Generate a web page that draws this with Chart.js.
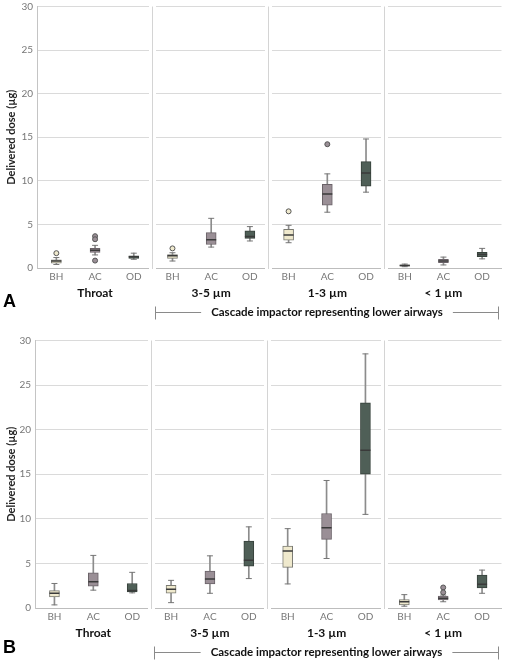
<!DOCTYPE html>
<html>
<head>
<meta charset="utf-8">
<script src="https://cdn.jsdelivr.net/npm/chart.js@4.4.1/dist/chart.umd.min.js"></script>
<style>
  html, body { margin: 0; padding: 0; background: #fff; }
  canvas { position: absolute; left: 0; }
  #chartA { top: 0; }
  #chartB { top: 334px; }
</style>
</head>
<body>
<canvas id="chartA" width="508" height="320"></canvas>
<canvas id="chartB" width="508" height="326"></canvas>
<script>
const groups = ['BH', 'AC', 'OD'];
const facets = ['Throat', '3-5 µm', '1-3 µm', '< 1 µm'];
const yTicks = [0, 5, 10, 15, 20, 25, 30];
const boxColors = ['#efe9cd', '#9a8f96', '#4f5f57'];
const boxBorders = ['#7a7a72', '#6a6268', '#36413b'];

// Panel A (12 boxes: BH/AC/OD for each of the 4 facets)
const aLow  = [0.4, 1.5, 1.0,  0.8, 2.4, 3.1,  2.9, 6.4, 8.7,   0.15, 0.35, 1.05];
const aQ1   = [0.55, 1.8, 1.1, 1.1, 2.7, 3.4,  3.2, 7.2, 9.4,   0.2, 0.6, 1.3];
const aMed  = [0.8, 2.05, 1.3, 1.4, 3.25, 3.6, 3.8, 8.5, 10.9,  0.3, 0.8, 1.55];
const aQ3   = [0.95, 2.25, 1.4, 1.55, 4.05, 4.25, 4.45, 9.6, 12.2, 0.35, 1.0, 1.8];
const aHigh = [1.2, 2.6, 1.7,  1.75, 5.7, 4.75, 4.9, 10.8, 14.8, 0.45, 1.25, 2.25];
const aOut1 = [1.7, 3.3, null, 2.25, null, null, 6.5, 14.2, null, null, null, null];
const aOut2 = [null, 3.65, null, null, null, null, null, null, null, null, null, null];
const aOut3 = [null, 0.85, null, null, null, null, null, null, null, null, null, null];

// Panel B
const bLow  = [0.35, 2.0, 1.7,  0.6, 1.65, 3.3,  2.7, 5.55, 10.5,  0.2, 0.7, 1.65];
const bQ1   = [1.25, 2.45, 1.8, 1.65, 2.7, 4.7,  4.55, 7.7, 15.0,  0.35, 0.9, 2.25];
const bMed  = [1.65, 2.95, 1.95, 2.1, 3.25, 5.35, 6.4, 9.0, 17.7,  0.7, 1.1, 2.65];
const bQ3   = [1.95, 3.95, 2.75, 2.55, 4.15, 7.5, 6.95, 10.6, 23.0, 0.95, 1.35, 3.7];
const bHigh = [2.75, 5.9, 4.0,  3.1, 5.85, 9.1,  8.9, 14.3, 28.5,  1.5, 1.45, 4.25];
const bOut1 = [null, null, null, null, null, null, null, null, null, null, 1.75, null];
const bOut2 = [null, null, null, null, null, null, null, null, null, null, 2.3, null];

const labels = facets.flatMap(() => groups);
const colorAt = c => boxColors[c.dataIndex % 3];
const borderAt = c => boxBorders[c.dataIndex % 3];

const facetPlugin = {
  id: 'facets',
  afterDraw(chart, args, opts) {
    const { ctx, chartArea: a, scales: { x } } = chart;
    ctx.save();
    const seps = [2.5, 5.5, 8.5].map(v => Math.round(x.getPixelForValue(v)) - 0.5);
    seps.forEach(sx => {
      ctx.fillStyle = '#fff';
      ctx.fillRect(sx - 3.5, a.top - 1, 7, a.bottom - a.top + 3);
      ctx.strokeStyle = '#d4d4d4';
      ctx.lineWidth = 1;
      ctx.beginPath(); ctx.moveTo(sx, a.top); ctx.lineTo(sx, a.bottom + 1); ctx.stroke();
    });

    // bracket under the cascade impactor facets
    const by = Math.round(a.bottom + 44) + 0.5;
    const bl = seps[0] + 3, br = a.right - 3;
    const mid = (bl + br) / 2;
    ctx.font = 'bold 11.5px Lato';
    ctx.fillStyle = '#111';
    ctx.textAlign = 'center';
    ctx.textBaseline = 'middle';
    ctx.fillText(opts.bracketText, mid, by);
    const w = ctx.measureText(opts.bracketText).width;
    ctx.strokeStyle = '#8a8a8a';
    ctx.beginPath();
    ctx.moveTo(bl, by); ctx.lineTo(mid - w / 2 - 10, by);
    ctx.moveTo(mid + w / 2 + 10, by); ctx.lineTo(br, by);
    ctx.moveTo(bl, by - 6); ctx.lineTo(bl, by + 7);
    ctx.moveTo(br, by - 6); ctx.lineTo(br, by + 7);
    ctx.stroke();

    ctx.font = 'bold 18px "Liberation Sans"';
    ctx.textAlign = 'left';
    ctx.fillStyle = '#000';
    ctx.fillText(opts.letter, 3, a.bottom + opts.letterOffset);
    ctx.restore();
  }
};

function makePanel(id, s, yWidth, letter, letterOffset) {
  const outliers = s.out.map(arr => ({
    type: 'line', xAxisID: 'x', data: arr, showLine: false, order: 0,
    pointStyle: 'circle', pointRadius: 2.5, pointBorderWidth: 1,
    pointBackgroundColor: colorAt, pointBorderColor: '#555'
  }));
  new Chart(document.getElementById(id), {
    type: 'bar',
    data: {
      labels,
      datasets: [
        { type: 'bar', data: s.low.map((v, i) => [v, s.high[i]]), grouped: false, barThickness: 1,
          backgroundColor: '#8c8c8c', borderWidth: 0, order: 4 },
        { type: 'bar', data: s.q1.map((v, i) => [v, s.q3[i]]), grouped: false, barThickness: 10,
          backgroundColor: colorAt, borderColor: borderAt, borderWidth: 1, borderSkipped: false, order: 3 },
        { type: 'line', data: s.med, showLine: false, pointStyle: 'line', pointRadius: 5,
          pointBorderColor: '#3a3a3a', pointBorderWidth: 1.5, order: 2 },
        { type: 'line', data: s.high, showLine: false, pointStyle: 'line', pointRadius: 3,
          pointBorderColor: '#777', pointBorderWidth: 1, order: 2 },
        { type: 'line', data: s.low, showLine: false, pointStyle: 'line', pointRadius: 3,
          pointBorderColor: '#777', pointBorderWidth: 1, order: 2 },
        ...outliers
      ]
    },
    options: {
      responsive: false,
      animation: false,
      events: [],
      layout: { padding: { top: 6, right: 6, bottom: 16, left: 0 } },
      plugins: {
        legend: { display: false },
        tooltip: { enabled: false },
        facets: { letter, letterOffset, bracketText: 'Cascade impactor representing lower airways' }
      },
      scales: {
        x: {
          type: 'category', offset: true, weight: 0,
          grid: { display: false, drawTicks: false, tickLength: 0 },
          border: { display: true, color: '#bdbdbd' },
          ticks: { color: '#777', font: { family: 'Lato', size: 10 }, padding: 3, maxRotation: 0, autoSkip: false },
          afterFit: sc => { sc.height = 16; }
        },
        x2: {
          type: 'category', labels: facets, offset: true, position: 'bottom', weight: 1,
          grid: { display: false, drawTicks: false, tickLength: 0 },
          border: { display: false },
          ticks: { color: '#111', font: { family: 'Lato', size: 12, weight: 'bold' }, padding: 2, maxRotation: 0, autoSkip: false },
          afterFit: sc => { sc.height = 20; }
        },
        y: {
          min: 0, max: 30,
          afterBuildTicks: sc => { sc.ticks = yTicks.map(v => ({ value: v })); },
          ticks: { color: '#777', font: { family: 'Lato', size: 10 }, padding: 4 },
          grid: { color: '#dadada', drawTicks: false },
          border: { color: '#c4c4c4' },
          title: { display: true, text: 'Delivered dose (µg)', color: '#222',
                   font: { family: 'Lato', size: 11, weight: 'bold' }, padding: { top: 5, bottom: 0 } },
          afterFit: sc => { sc.width = yWidth; sc.paddingTop = 0; sc.paddingBottom = 0; }
        }
      }
    },
    plugins: [facetPlugin]
  });
}

makePanel('chartA', { low: aLow, q1: aQ1, med: aMed, q3: aQ3, high: aHigh, out: [aOut1, aOut2, aOut3] }, 37, 'A', 34);
makePanel('chartB', { low: bLow, q1: bQ1, med: bMed, q3: bQ3, high: bHigh, out: [bOut1, bOut2] }, 35, 'B', 40);
</script>
</body>
</html>
